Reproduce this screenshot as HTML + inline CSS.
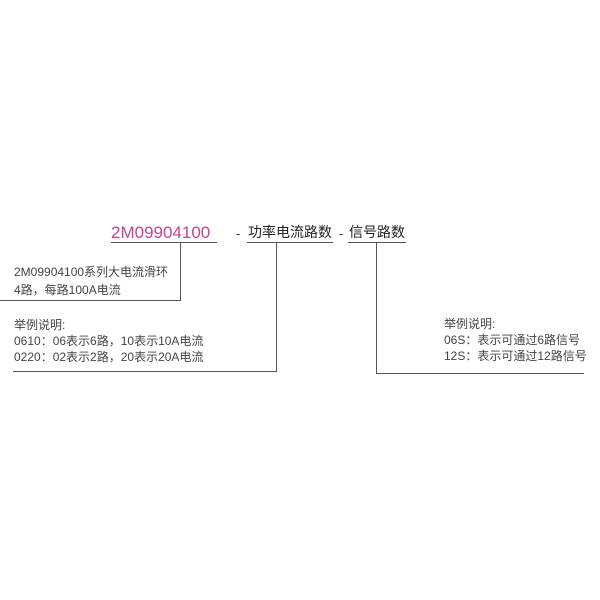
<!DOCTYPE html>
<html><head><meta charset="utf-8"><style>
body{margin:0;width:600px;height:600px;background:#fff;position:relative;font-family:"Liberation Sans","Noto Sans CJK SC",sans-serif;color:#333}
.t{position:absolute;white-space:nowrap;line-height:1}
.l{position:absolute;background:#555}
.s{font-size:12px;color:#444}
</style></head><body>
<div class="t" style="left:111px;top:224px;font-size:17px;color:#c0468f">2M09904100</div>
<div class="l" style="left:111px;top:242px;width:106px;height:1px"></div>
<div class="t" style="left:236px;top:227px;font-size:13px">-</div>
<div class="t" style="left:248px;top:225px;font-size:14px;color:#222">功率电流路数</div>
<div class="l" style="left:247px;top:242px;width:86px;height:1px"></div>
<div class="t" style="left:339px;top:227px;font-size:13px">-</div>
<div class="t" style="left:349px;top:225px;font-size:14px;color:#222">信号路数</div>
<div class="l" style="left:348px;top:242px;width:58px;height:1px"></div>

<div class="l" style="left:180px;top:242px;width:1px;height:59px"></div>
<div class="l" style="left:0px;top:300px;width:181px;height:1px"></div>
<div class="l" style="left:276px;top:242px;width:1px;height:130px"></div>
<div class="l" style="left:13px;top:371px;width:264px;height:1px"></div>
<div class="l" style="left:376px;top:242px;width:1px;height:132px"></div>
<div class="l" style="left:376px;top:373px;width:208px;height:1px"></div>

<div class="t s" style="left:14px;top:266px">2M09904100系列大电流滑环</div>
<div class="t s" style="left:14px;top:284px">4路，每路100A电流</div>
<div class="t s" style="left:14px;top:319px">举例说明:</div>
<div class="t s" style="left:14px;top:335px">0610：06表示6路，10表示10A电流</div>
<div class="t s" style="left:14px;top:351px">0220：02表示2路，20表示20A电流</div>
<div class="t s" style="left:444px;top:318px">举例说明:</div>
<div class="t s" style="left:444px;top:334px">06S：表示可通过6路信号</div>
<div class="t s" style="left:444px;top:350px">12S：表示可通过12路信号</div>
</body></html>
